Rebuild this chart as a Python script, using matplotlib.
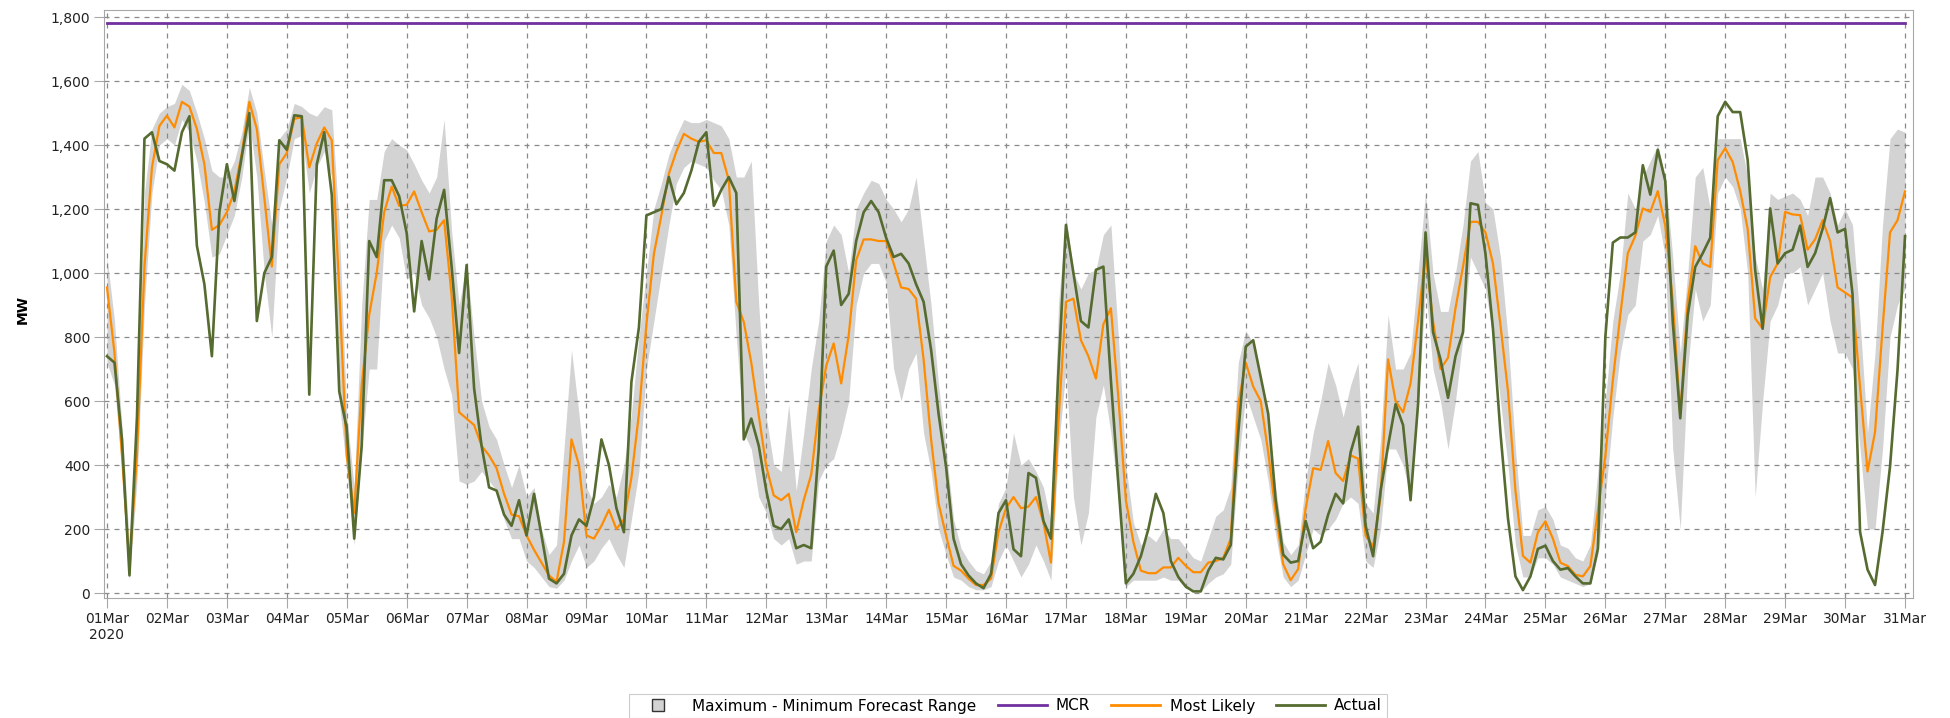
import matplotlib
matplotlib.use('Agg')
import matplotlib.pyplot as plt
import matplotlib.dates as mdates
from matplotlib.lines import Line2D
from matplotlib import font_manager
from matplotlib.ticker import FuncFormatter, MultipleLocator
import numpy as np
import pandas as pd

# 3-hourly values, one row per day (00,03,...,21h), last value = 31Mar 00h
most_likely = [
    955, 750, 430, 85, 430, 1020, 1330, 1460,       # 01Mar
    1492, 1455, 1535, 1520, 1450, 1340, 1135, 1150,  # 02Mar
    1190, 1255, 1375, 1535, 1450, 1235, 1020, 1340,  # 03Mar
    1375, 1482, 1487, 1330, 1405, 1455, 1415, 950,   # 04Mar
    430, 250, 650, 870, 1000, 1190, 1270, 1210,      # 05Mar
    1213, 1255, 1190, 1130, 1135, 1165, 930, 565,    # 06Mar
    545, 525, 460, 430, 390, 310, 245, 240,          # 07Mar
    180, 135, 95, 55, 35, 160, 480, 400,             # 08Mar
    180, 170, 210, 260, 200, 230, 360, 560,          # 09Mar
    840, 1060, 1180, 1310, 1380, 1435, 1420, 1410,   # 10Mar
    1415, 1375, 1375, 1290, 910, 847, 720, 555,      # 11Mar
    395, 305, 290, 310, 190, 290, 370, 570,          # 12Mar
    710, 780, 655, 805, 1040, 1105, 1105, 1100,      # 13Mar
    1100, 1030, 955, 950, 920, 730, 480, 280,        # 14Mar
    180, 85, 70, 45, 25, 25, 45, 190,                # 15Mar
    265, 300, 265, 270, 300, 220, 95, 535,           # 16Mar
    910, 920, 790, 740, 670, 840, 890, 610,          # 17Mar
    290, 160, 70, 62, 62, 80, 80, 110,               # 18Mar
    85, 65, 65, 95, 100, 110, 170, 590,              # 19Mar
    720, 645, 600, 440, 250, 90, 40, 75,             # 20Mar
    265, 390, 385, 475, 375, 350, 430, 420,          # 21Mar
    180, 145, 300, 730, 600, 565, 655, 850,          # 22Mar
    1062, 850, 700, 735, 890, 1020, 1160, 1160,      # 23Mar
    1127, 1030, 837, 632, 320, 116, 95, 190,         # 24Mar
    224, 170, 95, 84, 57, 52, 84, 256,               # 25Mar
    428, 665, 869, 1062, 1116, 1202, 1191, 1256,     # 26Mar
    1148, 912, 557, 912, 1084, 1030, 1019, 1353,     # 27Mar
    1390, 1347, 1256, 1138, 858, 826, 987, 1030,     # 28Mar
    1191, 1183, 1181, 1073, 1105, 1165, 1100, 955,   # 29Mar
    939, 923, 643, 380, 503, 826, 1127, 1165,        # 30Mar
    1255,                                            # 31Mar
]

actual = [
    740, 720, 480, 55, 550, 1420, 1440, 1350,
    1340, 1320, 1440, 1490, 1085, 965, 740, 1190,
    1340, 1225, 1365, 1500, 850, 1000, 1050, 1415,
    1385, 1493, 1490, 620, 1340, 1440, 1245, 630,
    515, 170, 460, 1100, 1050, 1290, 1290, 1240,
    1125, 880, 1100, 980, 1170, 1260, 1020, 750,
    1025, 640, 460, 330, 320, 245, 210, 290,
    180, 310, 180, 45, 30, 60, 180, 230,
    210, 300, 480, 400, 265, 190, 660, 830,
    1180, 1190, 1200, 1300, 1215, 1250, 1320, 1410,
    1440, 1210, 1260, 1300, 1250, 480, 545, 460,
    320, 210, 200, 230, 140, 150, 140, 450,
    1020, 1070, 900, 935, 1100, 1190, 1225, 1190,
    1110, 1050, 1060, 1030, 965, 910, 760, 560,
    395, 170, 90, 55, 30, 15, 60, 250,
    290, 137, 115, 375, 360, 225, 170, 695,
    1150, 1000, 850, 830, 1010, 1020, 665, 340,
    30, 60, 115, 200, 310, 250, 100, 50,
    20, 5, 5, 70, 110, 105, 150, 500,
    770, 790, 675, 560, 290, 120, 95, 100,
    225, 140, 160, 245, 310, 280, 440, 520,
    210, 115, 320, 460, 590, 525, 290, 590,
    1127, 815, 730, 610, 740, 815, 1218, 1213,
    1060, 826, 500, 234, 52, 9, 52, 138,
    148, 100, 73, 78, 52, 30, 30, 138,
    800, 1095, 1111, 1111, 1127, 1337, 1245, 1385,
    1288, 847, 546, 869, 1019, 1062, 1110, 1490,
    1535, 1503, 1503, 1353, 1009, 826, 1202, 1030,
    1062, 1073, 1148, 1019, 1062, 1138, 1234, 1127,
    1138, 933, 191, 73, 25, 191, 395, 697,
    1115,
]

range_min = [
    720, 650, 380, 40, 350, 900, 1250, 1400,
    1420, 1400, 1480, 1440, 1350, 1220, 1050, 1060,
    1120, 1180, 1300, 1470, 1300, 1000, 800, 1200,
    1300, 1420, 1430, 1250, 1330, 1380, 1300, 600,
    380, 150, 450, 700, 700, 1100, 1150, 1110,
    980, 1000, 900, 860, 800, 700, 620, 350,
    340, 350, 380, 350, 320, 230, 170, 170,
    100, 80, 50, 20, 15, 40, 100, 150,
    80, 100, 140, 170, 120, 80, 230, 380,
    700, 850, 1000, 1150, 1280, 1330, 1350, 1340,
    1330, 1290, 1260, 1150, 800, 500, 450, 300,
    250, 170, 150, 170, 90, 100, 100, 350,
    400, 420, 500, 600, 900, 1000, 1030, 1030,
    970, 700, 600, 700, 750, 500, 380, 200,
    120, 50, 40, 20, 10, 10, 20, 100,
    150, 100, 50, 90, 150, 100, 40, 450,
    700, 300, 150, 250, 550, 650, 500, 300,
    20, 40, 40, 40, 40, 50, 40, 40,
    15, 5, 5, 30, 50, 60, 90, 400,
    620, 550, 480, 350, 180, 50, 20, 40,
    120, 200, 180, 200, 230, 280, 300, 280,
    100, 80, 200, 450, 450, 400, 300, 580,
    950, 700, 600, 450, 600, 800, 1050, 1000,
    950, 800, 600, 400, 150, 50, 50, 110,
    110, 90, 50, 40, 30, 20, 30, 120,
    300, 550, 750, 870, 900, 1100, 1120, 1180,
    1050, 450, 200, 700, 950, 850, 900, 1250,
    1300, 1270, 1200, 1000, 300, 600, 850, 900,
    1000, 1000, 1020, 900, 950, 1000, 850, 750,
    750, 700, 450, 200, 200, 450, 800, 900,
    950,
]

range_max = [
    1050, 850, 520, 150, 560, 1250, 1450, 1500,
    1520, 1530, 1590, 1570, 1500, 1420, 1320, 1300,
    1300, 1350, 1440, 1580, 1500, 1320, 1150, 1420,
    1450, 1530, 1520, 1500, 1490, 1520, 1510, 1150,
    560, 330, 900, 1230, 1230, 1380, 1420, 1400,
    1385, 1340, 1290, 1250, 1300, 1480, 1130, 900,
    1030, 800, 600, 520, 480, 400, 330, 400,
    300, 330, 200, 120, 150, 450, 760, 560,
    330, 280, 300, 340, 300, 400, 560, 800,
    1000, 1200, 1280, 1370, 1430, 1480, 1470, 1470,
    1480, 1470, 1460, 1420, 1300, 1300, 1350, 900,
    550, 400, 380, 590, 320, 500, 700, 850,
    1100, 1150, 1120, 1000, 1200, 1250, 1290, 1280,
    1230, 1200, 1160, 1200, 1300, 1100, 900, 650,
    450, 230, 140, 100, 70, 60, 100, 280,
    330, 500, 400, 420, 380, 330, 220, 900,
    1180, 1000, 950, 1000, 1010, 1120, 1150, 800,
    400, 220, 150, 180, 160, 200, 170, 170,
    140, 110, 100, 170, 240, 260, 330, 720,
    820, 780, 650, 540, 330, 160, 120, 150,
    350, 500, 600, 720, 650, 550, 650, 720,
    280, 250, 480, 870, 700, 700, 750, 1000,
    1250, 1000, 880, 880, 1000, 1150, 1350, 1380,
    1220, 1200, 1050, 800, 450, 180, 180, 260,
    270, 230, 150, 140, 110, 100, 150, 380,
    600, 850, 1000, 1250, 1200, 1300, 1350, 1400,
    1300, 1050, 750, 1000, 1300, 1330, 1200, 1420,
    1420, 1420, 1420, 1300, 1050, 950, 1250, 1230,
    1240, 1250, 1230, 1180, 1300, 1300, 1250, 1150,
    1200, 1150, 850, 500, 750, 1150, 1420, 1450,
    1440,
]

mcr_mw = 1780

times = pd.date_range('2020-03-01', periods=len(actual), freq='3h')

names = {f.name for f in font_manager.fontManager.ttflist}
legend_font = 'Liberation Sans Narrow' if 'Liberation Sans Narrow' in names else 'DejaVu Sans'

fig = plt.figure(figsize=(19.5, 7.18), dpi=100)
ax = fig.add_axes([104 / 1950, 1 - 598 / 718, 1809 / 1950, 588 / 718])

ax.fill_between(times, range_min, range_max, color='#d3d3d3', lw=0, zorder=1)
ax.plot(times, np.full(len(times), mcr_mw), color='#7030a0', lw=2.0, zorder=3)
ax.plot(times, most_likely, color='#ff8c00', lw=1.6, zorder=4)
ax.plot(times, actual, color='#556b2f', lw=1.9, zorder=5)

ax.set_xlim(pd.Timestamp('2020-03-01') - pd.Timedelta(hours=1.2),
            pd.Timestamp('2020-03-31') + pd.Timedelta(hours=3.2))
ax.set_ylim(-15.6, 1822)

ax.yaxis.set_major_locator(MultipleLocator(200))
ax.yaxis.set_major_formatter(FuncFormatter(lambda v, p: f'{int(v):,}'))
ax.xaxis.set_major_locator(mdates.DayLocator())


def day_label(v, p):
    d = mdates.num2date(v)
    s = d.strftime('%d%b')
    if d.day == 1:
        s += '\n' + d.strftime('%Y')
    return s


ax.xaxis.set_major_formatter(FuncFormatter(day_label))

ax.grid(True, color='#8a8a8a', linestyle=(0, (4, 4)), linewidth=0.9, zorder=2)
ax.set_axisbelow(False)
for s in ax.spines.values():
    s.set_color('#a8a8a8')
ax.tick_params(axis='both', direction='out', length=7, color='#a8a8a8',
               labelsize=10, labelcolor='#222222', pad=3)

ax.set_ylabel('MW', fontweight='bold', fontsize=10)
ax.yaxis.set_label_coords(-0.041, 0.49)

handles = [
    Line2D([], [], marker='s', markersize=8, markerfacecolor='#d3d3d3',
           markeredgecolor='#333333', linestyle='none'),
    Line2D([], [], color='#7030a0', lw=2),
    Line2D([], [], color='#ff8c00', lw=2),
    Line2D([], [], color='#556b2f', lw=2),
]
labels = ['Maximum - Minimum Forecast Range', 'MCR', 'Most Likely', 'Actual']
leg = fig.legend(handles, labels, loc='center', bbox_to_anchor=(1008 / 1950, 1 - 706 / 718),
                 ncol=4, frameon=True, fancybox=False, handlelength=3.2, handletextpad=0.6,
                 columnspacing=1.4, borderpad=0.3, prop={'family': legend_font, 'size': 11})
leg.get_frame().set_edgecolor('#c0c0c0')
leg.get_frame().set_linewidth(0.8)

fig.savefig('out.png', dpi=100)
